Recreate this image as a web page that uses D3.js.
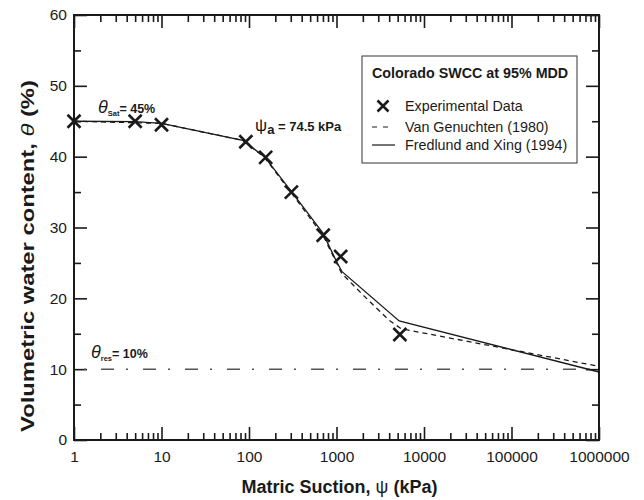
<!DOCTYPE html>
<html lang="en">
<head>
<meta charset="UTF-8">
<title>Colorado SWCC</title>
<script src="https://d3js.org/d3.v7.min.js"></script>
<style>
    body { margin: 0; background: #fff; }
    text { font-family: "Liberation Sans", Arial, sans-serif; fill: #1a1a1a; }
    .tick text { font-size: 15.5px; }
    .axis-title { font-size: 18px; font-weight: bold; }
    .ann { font-size: 12.5px; font-weight: bold; }
    .leg { font-size: 14.3px; }
</style>
</head>
<body>
<script>
    const width  = 644;
    const height = 500;

    // measured points
    const suction  = [1, 5, 10, 92, 155, 305, 705, 1115, 5300];
    const moisture = [45, 45, 44.5, 42.1, 39.9, 35.0, 28.9, 25.9, 14.9];

    // fitted curves
    const fxSuction = [1, 5, 10, 85, 150, 300, 700, 1000, 1150, 5200, 1000000];
    const fxTheta   = [45, 44.95, 44.7, 42.3, 40.0, 35.2, 29.2, 25.2, 23.8, 16.8, 9.6];
    const vgSuction = [1, 10, 85, 150, 300, 700, 1150, 2000, 4000, 5500, 1000000];
    const vgTheta   = [45, 44.7, 42.3, 39.9, 35.0, 28.9, 23.5, 20.5, 16.9, 15.7, 10.4];

    const xTicks = [1, 10, 100, 1000, 10000, 100000, 1000000];
    const yTicks = [0, 10, 20, 30, 40, 50, 60];
    const thetaRes = 10;

    const m = {left: 74, right: 45, top: 15, bottom: 60};

    const x = d3.scaleLog().domain([1, 1e6]).range([m.left, width - m.right]);
    const y = d3.scaleLinear().domain([0, 60]).range([height - m.bottom, m.top]);

    const xMinor = [];
    xTicks.slice(0, -1).forEach(d => { for (let k = 2; k < 10; k++) xMinor.push(d * k); });
    const yMinor = d3.range(5, 60, 10);

    const svg = d3.select("body").append("svg").attr("width", width).attr("height", height);

    const ink = "#1a1a1a";

    function styleAxis(g) {
        g.select(".domain").remove();
        g.selectAll(".tick line").attr("stroke", ink).attr("stroke-width", 1.6);
    }

    // bottom
    svg.append("g").attr("transform", `translate(0,${y(0)})`)
        .call(d3.axisBottom(x).tickValues(xTicks).tickSize(-13).tickPadding(11)
            .tickFormat(d3.format("d")))
        .call(styleAxis);
    svg.append("g").attr("transform", `translate(0,${y(0)})`)
        .call(d3.axisBottom(x).tickValues(xMinor).tickSize(-7).tickFormat(""))
        .call(styleAxis);
    // top
    svg.append("g").attr("transform", `translate(0,${y(60)})`)
        .call(d3.axisTop(x).tickValues(xTicks).tickSize(-13).tickFormat(""))
        .call(styleAxis);
    svg.append("g").attr("transform", `translate(0,${y(60)})`)
        .call(d3.axisTop(x).tickValues(xMinor).tickSize(-7).tickFormat(""))
        .call(styleAxis);
    // left
    svg.append("g").attr("transform", `translate(${x(1)},0)`)
        .call(d3.axisLeft(y).tickValues(yTicks).tickSize(-13).tickPadding(7))
        .call(styleAxis);
    svg.append("g").attr("transform", `translate(${x(1)},0)`)
        .call(d3.axisLeft(y).tickValues(yMinor).tickSize(-7).tickFormat(""))
        .call(styleAxis);
    // right
    svg.append("g").attr("transform", `translate(${x(1e6)},0)`)
        .call(d3.axisRight(y).tickValues(yTicks).tickSize(-13).tickFormat(""))
        .call(styleAxis);
    svg.append("g").attr("transform", `translate(${x(1e6)},0)`)
        .call(d3.axisRight(y).tickValues(yMinor).tickSize(-7).tickFormat(""))
        .call(styleAxis);

    svg.selectAll(".tick text").attr("fill", ink);

    // frame
    svg.append("rect")
        .attr("x", x(1)).attr("y", y(60))
        .attr("width", x(1e6) - x(1)).attr("height", y(0) - y(60))
        .attr("fill", "none").attr("stroke", ink).attr("stroke-width", 2);

    // residual line
    svg.append("line")
        .attr("x1", x(1)).attr("x2", x(1e6))
        .attr("y1", y(thetaRes)).attr("y2", y(thetaRes))
        .attr("stroke", "#555").attr("stroke-width", 1.5)
        .attr("stroke-dasharray", "13,12,2,15")
        .attr("stroke-dashoffset", -27);

    const line = d3.line().x(d => x(d[0])).y(d => y(d[1]));

    svg.append("path")
        .attr("d", line(d3.zip(vgSuction, vgTheta)))
        .attr("fill", "none").attr("stroke", ink).attr("stroke-width", 1.3)
        .attr("stroke-dasharray", "5,4");

    svg.append("path")
        .attr("d", line(d3.zip(fxSuction, fxTheta)))
        .attr("fill", "none").attr("stroke", ink).attr("stroke-width", 1.3);

    function cross(g, cx, cy, r) {
        g.append("path")
            .attr("d", `M${cx - r},${cy - r}L${cx + r},${cy + r}M${cx - r},${cy + r}L${cx + r},${cy - r}`)
            .attr("stroke", ink).attr("stroke-width", 2.6).attr("fill", "none");
    }
    const pts = svg.append("g");
    suction.forEach((s, i) => cross(pts, x(s), y(moisture[i]), 6.5));

    // annotations
    const a1 = svg.append("text").attr("class", "ann").attr("x", 98).attr("y", 113);
    a1.append("tspan").attr("font-style", "italic").attr("font-weight", "normal")
        .attr("font-size", "18px").text("θ");
    a1.append("tspan").attr("font-size", "7.5px").attr("dy", 3).text("Sat");
    a1.append("tspan").attr("dy", -3).text("= 45%");

    const a2 = svg.append("text").attr("class", "ann").attr("x", 255).attr("y", 131);
    a2.append("tspan").attr("font-weight", "normal").attr("font-size", "17px").text("ψ");
    a2.append("tspan").attr("dy", 3).attr("font-size", "13px").text("a");
    a2.append("tspan").attr("dy", -3).attr("font-size", "13px").text(" = 74.5 kPa");

    const a3 = svg.append("text").attr("class", "ann").attr("x", 91).attr("y", 358);
    a3.append("tspan").attr("font-style", "italic").attr("font-weight", "normal")
        .attr("font-size", "18px").text("θ");
    a3.append("tspan").attr("font-size", "7.5px").attr("dy", 3).text("res");
    a3.append("tspan").attr("dy", -3).text("= 10%");

    // legend
    const lg = svg.append("g");
    lg.append("rect").attr("x", 362).attr("y", 56).attr("width", 215).attr("height", 107)
        .attr("fill", "#fff").attr("stroke", "#333").attr("stroke-width", 1);
    lg.append("text").attr("x", 372).attr("y", 78).attr("font-size", "14.3px")
        .attr("font-weight", "bold").text("Colorado SWCC at 95% MDD");
    cross(lg, 383, 106, 5.5);
    lg.append("text").attr("class", "leg").attr("x", 405).attr("y", 111).text("Experimental Data");
    lg.append("line").attr("x1", 372).attr("x2", 394).attr("y1", 127).attr("y2", 127)
        .attr("stroke", ink).attr("stroke-width", 1.2).attr("stroke-dasharray", "5,6");
    lg.append("text").attr("class", "leg").attr("x", 405).attr("y", 132).text("Van Genuchten (1980)");
    lg.append("line").attr("x1", 372).attr("x2", 395).attr("y1", 145).attr("y2", 145)
        .attr("stroke", ink).attr("stroke-width", 1.2);
    lg.append("text").attr("class", "leg").attr("x", 405).attr("y", 150).text("Fredlund and Xing (1994)");

    // axis titles
    const xt = svg.append("text").attr("class", "axis-title")
        .attr("x", (x(1) + x(1e6)) / 2 + 3).attr("y", 493).attr("text-anchor", "middle");
    xt.append("tspan").text("Matric Suction, ");
    xt.append("tspan").attr("font-weight", "normal").text("ψ");
    xt.append("tspan").text(" (kPa)");

    // y title is stretched along its length in the source figure
    const yt = svg.append("text").attr("class", "axis-title")
        .attr("text-anchor", "middle");
    yt.append("tspan").text("Volumetric water content, ");
    yt.append("tspan").attr("font-style", "italic").attr("font-weight", "normal").text("θ");
    yt.append("tspan").text(" (%)");
    const natural = yt.node().getComputedTextLength();
    yt.attr("transform", `translate(34,256) rotate(-90) scale(${352 / natural},1)`);
</script>
</body>
</html>
